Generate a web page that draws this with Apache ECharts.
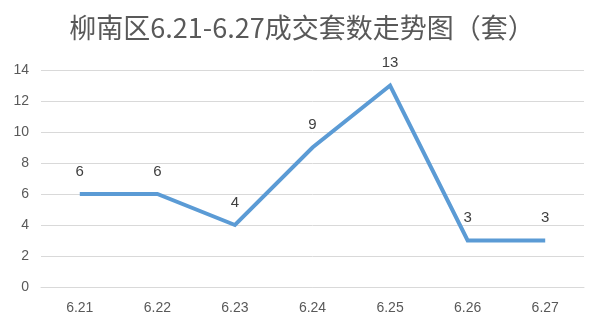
<!DOCTYPE html>
<html>
<head>
<meta charset="utf-8">
<script src="https://cdn.jsdelivr.net/npm/echarts@6/dist/echarts.min.js"></script>
<style>
  html, body { margin: 0; padding: 0; background: #fff; }
  #chart { width: 604px; height: 333px; }
</style>
</head>
<body>
<div id="chart"></div>
<script>
const days = ["6.21", "6.22", "6.23", "6.24", "6.25", "6.26", "6.27"];
const deals = [6, 6, 4, 9, 13, 3, 3];

const chart = echarts.init(document.getElementById("chart"));

chart.setOption({
  animation: false,
  title: {
    text: "柳南区6.21-6.27成交套数走势图（套）",
    left: "center",
    top: 9,
    textStyle: {
      fontFamily: "Noto Sans CJK SC",
      fontSize: 27,
      fontWeight: "normal",
      color: "#595959"
    }
  },
  grid: { left: 41, right: 20, top: 70, bottom: 46 },
  xAxis: {
    type: "category",
    data: days,
    axisLine: { lineStyle: { color: "#d9d9d9" } },
    axisTick: { show: false },
    axisLabel: { color: "#595959", fontSize: 14, margin: 14, fontFamily: "Liberation Sans" }
  },
  yAxis: {
    type: "value",
    min: 0,
    max: 14,
    interval: 2,
    axisLine: { show: false },
    axisTick: { show: false },
    splitLine: { lineStyle: { color: "#d9d9d9" } },
    axisLabel: { color: "#595959", fontSize: 14, margin: 12, fontFamily: "Liberation Sans" }
  },
  series: [{
    type: "line",
    data: deals,
    symbol: "circle",
    symbolSize: 0,
    showSymbol: true,
    itemStyle: { color: "#5b9bd5" },
    lineStyle: { color: "#5b9bd5", width: 4, join: "miter" },
    label: {
      show: true,
      position: "top",
      distance: 15,
      color: "#404040",
      fontSize: 15,
      fontFamily: "Liberation Sans"
    }
  }]
});
</script>
</body>
</html>
